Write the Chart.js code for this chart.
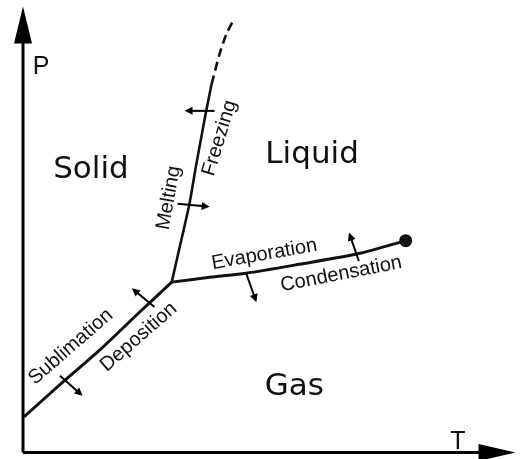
<!DOCTYPE html>
<html>
<head>
<meta charset="utf-8">
<script src="https://cdn.jsdelivr.net/npm/chart.js@4/dist/chart.umd.min.js"></script>
<style>
  html, body { margin: 0; padding: 0; background: #fff; }
  #wrap { width: 522px; height: 459px; }
</style>
</head>
<body>
<div id="wrap"><canvas id="grafico"></canvas></div>
<script>
// curvas do diagrama de fases (T, P em unidades arbitrarias, origem no canto dos eixos)
var sublimacaoT = [0.2, 7.5, 15.6, 23.7, 30.2]
var sublimacaoP = [8.0, 15.2, 23.0, 31.5, 38.2]

var fusaoT = [30.2, 31.8, 33.8, 35.2, 37.2, 38.3]
var fusaoP = [38.2, 46.0, 55.8, 64.7, 76.6, 82.6]

// parte tracejada do topo da curva de fusao
var fusaoTracoT = [38.3, 39.9, 41.3, 42.9]
var fusaoTracoP = [82.6, 89.3, 93.8, 97.3]

var vaporT = [30.2, 37.9, 45.3, 56.1, 68.2, 77.7]
var vaporP = [38.2, 39.3, 40.2, 42.2, 44.6, 47.5]

// ponto critico
var criticoT = [77.7]
var criticoP = [47.5]

// setas de transicao: [T inicio, P inicio, T fim, P fim]
var setas = [
    [38.9, 76.6, 32.8, 76.6],   // freezing
    [31.4, 55.8, 37.9, 55.1],   // melting
    [45.3, 40.2, 47.4, 33.7],   // evaporation
    [68.2, 42.9, 66.2, 49.3],   // condensation
    [7.5, 17.2, 12.1, 12.7],    // sublimation
    [26.7, 32.6, 22.1, 36.8]    // deposition
]

// rotulos: texto, T, P, angulo
var rotulosFases = [['Solid', 13.8, 61.6], ['Liquid', 58.7, 65.0], ['Gas', 55.1, 12.9]]
var rotulosTransicao = [
    ['Evaporation', 49.0, 44.4, -10],
    ['Condensation', 64.6, 40.0, -11],
    ['Melting', 29.6, 57.1, -80],
    ['Freezing', 39.9, 70.5, -73],
    ['Sublimation', 9.7, 23.7, -41],
    ['Deposition', 23.5, 25.9, -41]
]
var rotulosEixos = [['P', 2.0, 84.8, 'left'], ['T', 88.3, 0.7, 'center']]

function pontos(ts, ps) {
    var lista = []
    for (let i = 0; i < ts.length; i++) {
        lista.push({ x: ts[i], y: ps[i] })
    }
    return lista
}

function curva(ts, ps, extra) {
    var ds = {
        data: pontos(ts, ps),
        showLine: true,
        borderColor: '#111',
        borderWidth: 3,
        pointRadius: 0,
        tension: 0.25,
        fill: false
    }
    for (var k in extra) ds[k] = extra[k]
    return ds
}

function ponta(ctx, x1, y1, x2, y2, comp, larg) {
    var ang = Math.atan2(y2 - y1, x2 - x1)
    ctx.beginPath()
    ctx.moveTo(x2, y2)
    ctx.lineTo(x2 - comp * Math.cos(ang) + larg * Math.sin(ang), y2 - comp * Math.sin(ang) - larg * Math.cos(ang))
    ctx.lineTo(x2 - comp * Math.cos(ang) - larg * Math.sin(ang), y2 - comp * Math.sin(ang) + larg * Math.cos(ang))
    ctx.closePath()
    ctx.fill()
}

// plugin que desenha eixos com setas, setas de transicao e textos
var desenhos = {
    id: 'desenhos',
    afterDatasetsDraw: function (chart) {
        var ctx = chart.ctx
        var area = chart.chartArea
        var sx = chart.scales.x
        var sy = chart.scales.y
        ctx.save()
        ctx.fillStyle = '#000'
        ctx.strokeStyle = '#000'

        // eixos
        ctx.lineWidth = 3
        ctx.beginPath()
        ctx.moveTo(area.left, area.bottom)
        ctx.lineTo(area.left, area.top + 30)
        ctx.moveTo(area.left, area.bottom)
        ctx.lineTo(area.right - 30, area.bottom)
        ctx.stroke()
        ponta(ctx, area.left, area.bottom, area.left, area.top, 37, 9)
        ponta(ctx, area.left, area.bottom, area.right, area.bottom, 37, 8.5)

        // setas pequenas
        ctx.lineWidth = 2
        for (let i = 0; i < setas.length; i++) {
            var s = setas[i]
            var x1 = sx.getPixelForValue(s[0]), y1 = sy.getPixelForValue(s[1])
            var x2 = sx.getPixelForValue(s[2]), y2 = sy.getPixelForValue(s[3])
            var ang = Math.atan2(y2 - y1, x2 - x1)
            ctx.beginPath()
            ctx.moveTo(x1, y1)
            ctx.lineTo(x2 - 5 * Math.cos(ang), y2 - 5 * Math.sin(ang))
            ctx.stroke()
            ponta(ctx, x1, y1, x2, y2, 8, 4)
        }

        // nomes das fases
        ctx.font = '31px "DejaVu Sans"'
        ctx.textAlign = 'center'
        ctx.textBaseline = 'alphabetic'
        ctx.fillStyle = '#111'
        for (let i = 0; i < rotulosFases.length; i++) {
            var r = rotulosFases[i]
            ctx.fillText(r[0], sx.getPixelForValue(r[1]), sy.getPixelForValue(r[2]))
        }

        // P e T
        ctx.font = '25px "Liberation Sans"'
        for (let i = 0; i < rotulosEixos.length; i++) {
            var e = rotulosEixos[i]
            ctx.textAlign = e[3]
            ctx.fillText(e[0], sx.getPixelForValue(e[1]), sy.getPixelForValue(e[2]))
        }

        // nomes das transicoes (rotacionados)
        ctx.font = '20px "Liberation Sans"'
        ctx.textAlign = 'center'
        ctx.textBaseline = 'middle'
        for (let i = 0; i < rotulosTransicao.length; i++) {
            var t = rotulosTransicao[i]
            ctx.save()
            ctx.translate(sx.getPixelForValue(t[1]), sy.getPixelForValue(t[2]))
            ctx.rotate(t[3] * Math.PI / 180)
            ctx.fillText(t[0], 0, 0)
            ctx.restore()
        }
        ctx.restore()
    }
}

const config = {
    type: 'scatter',
    data: {
        datasets: [
            curva(sublimacaoT, sublimacaoP, {}),
            curva(fusaoT, fusaoP, { borderWidth: 2.6 }),
            curva(fusaoTracoT, fusaoTracoP, { borderWidth: 2.6, borderDash: [9, 5] }),
            curva(vaporT, vaporP, {}),
            {
                data: pontos(criticoT, criticoP),
                pointRadius: 6.5,
                pointBackgroundColor: '#111',
                pointBorderWidth: 0,
                showLine: false
            }
        ]
    },
    options: {
        responsive: true,
        maintainAspectRatio: false,
        animation: false,
        layout: { padding: { left: 23, right: 5, top: 5, bottom: 6 } },
        plugins: { legend: { display: false }, tooltip: { enabled: false } },
        scales: {
            x: { type: 'linear', min: 0, max: 100, display: false },
            y: { type: 'linear', min: 0, max: 100, display: false }
        }
    },
    plugins: [desenhos]
}

let myChart = new Chart(document.getElementById('grafico'), config)
</script>
</body>
</html>
